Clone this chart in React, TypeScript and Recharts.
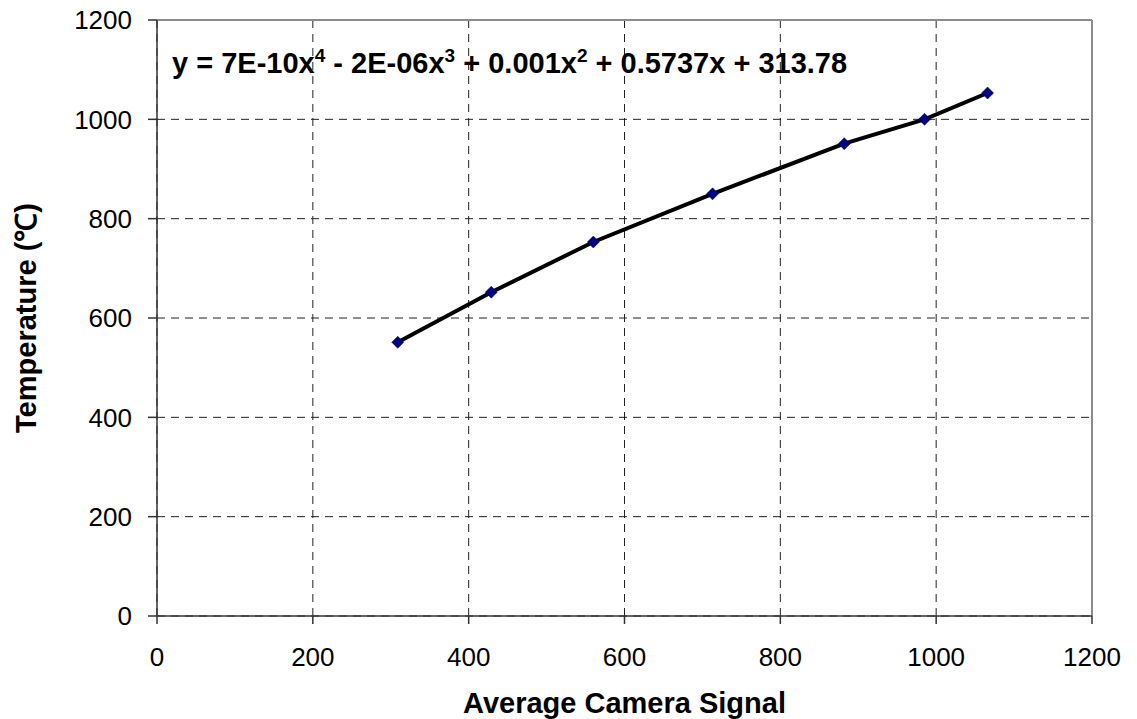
import {
  ComposedChart,
  Scatter,
  Line,
  XAxis,
  YAxis,
  CartesianGrid,
  ReferenceLine,
} from 'recharts';

// camera signal vs. furnace temperature
const signal = [309, 429, 560, 713, 882, 985, 1066];
const temperature = [551, 652, 753, 850, 951, 1000, 1053];

const axisTicks = [0, 200, 400, 600, 800, 1000, 1200];

const puntos = signal.map((s, i) => ({ x: s, y: temperature[i] }));

const FUENTE = '"Liberation Sans", Arial, Helvetica, sans-serif';

// square diamond, like the Excel marker
function Rombo(props: any) {
  const { cx, cy } = props;
  if (cx == null || cy == null) return null;
  const r = 6;
  return (
    <path
      d={`M${cx},${cy - r} L${cx + r},${cy} L${cx},${cy + r} L${cx - r},${cy} Z`}
      fill="#000080"
      stroke="#000060"
      strokeWidth={0.5}
    />
  );
}

export default function App() {
  return (
    <div style={{ position: 'absolute', left: 0, top: 0, width: 1137, height: 719 }}>
      <ComposedChart
        width={1137}
        height={719}
        data={puntos}
        margin={{ top: 20, right: 45, left: 0, bottom: 0 }}
        style={{ fontFamily: FUENTE }}
      >
        <CartesianGrid stroke="#222" strokeDasharray="8 6" strokeWidth={1} />
        <XAxis
          type="number"
          dataKey="x"
          domain={[0, 1200]}
          ticks={axisTicks}
          height={103}
          tickSize={8}
          tickMargin={24}
          stroke="#333"
          strokeWidth={1.5}
          tick={{ fill: '#000', fontSize: 26 }}
          label={{
            value: 'Average Camera Signal',
            position: 'insideBottom',
            offset: 6,
            style: { fontSize: 29, fontWeight: 'bold', fill: '#000' },
          }}
        />
        <YAxis
          type="number"
          domain={[0, 1200]}
          ticks={axisTicks}
          width={157}
          tickSize={9}
          tickMargin={16}
          stroke="#333"
          strokeWidth={1.5}
          tick={{ fill: '#000', fontSize: 26 }}
          label={{
            value: 'Temperature (℃)',
            angle: -90,
            position: 'insideLeft',
            offset: 26,
            style: { fontSize: 29, fontWeight: 'bold', fill: '#000', textAnchor: 'middle' },
          }}
        />
        <ReferenceLine y={1200} stroke="#8c8c8c" strokeWidth={2} />
        <ReferenceLine x={1200} stroke="#8c8c8c" strokeWidth={2} />
        <Scatter dataKey="y" shape={Rombo} isAnimationActive={false} />
        <Line
          dataKey="y"
          type="linear"
          stroke="#000"
          strokeWidth={4}
          dot={false}
          activeDot={false}
          isAnimationActive={false}
        />
      </ComposedChart>
      <svg
        width={1137}
        height={719}
        style={{ position: 'absolute', left: 0, top: 0, pointerEvents: 'none' }}
      >
        <text x={172} y={73} fontFamily={FUENTE} fontSize={29} fontWeight="bold" fill="#000">
          <tspan>y = 7E-10x</tspan>
          <tspan fontSize={19} dy={-11}>4</tspan>
          <tspan dy={11}> - 2E-06x</tspan>
          <tspan fontSize={19} dy={-11}>3</tspan>
          <tspan dy={11}> + 0.001x</tspan>
          <tspan fontSize={19} dy={-11}>2</tspan>
          <tspan dy={11}> + 0.5737x + 313.78</tspan>
        </text>
      </svg>
    </div>
  );
}
